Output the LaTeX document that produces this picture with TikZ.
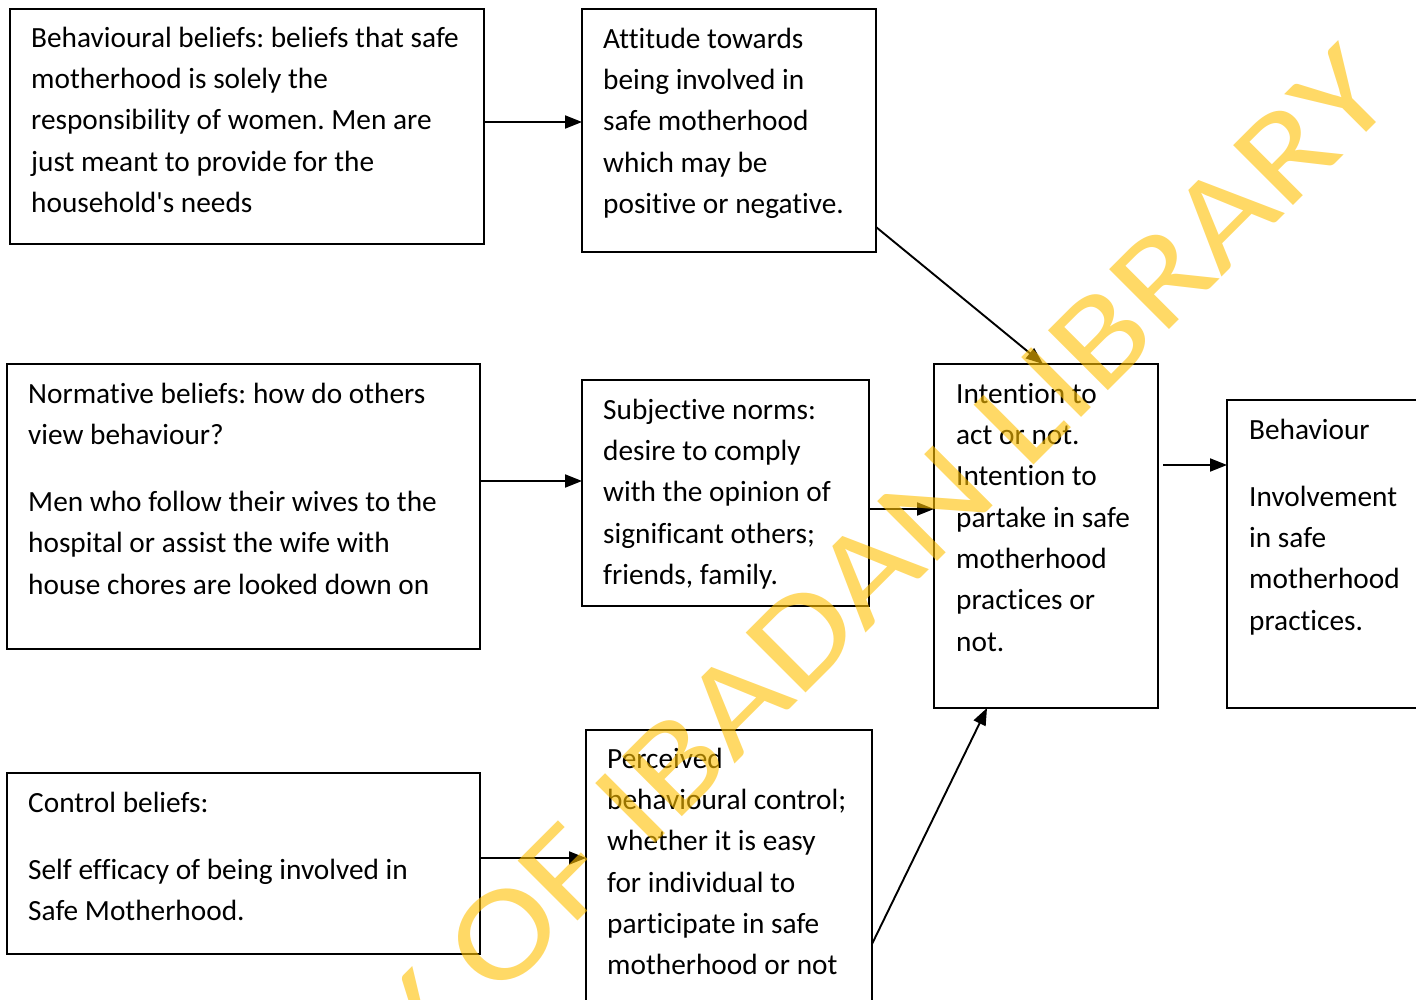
\documentclass[tikz,border=0pt]{standalone}
\usepackage{fontspec}
\setmainfont{Carlito}[Ligatures=CommonOff]
\newfontfamily\wmfont{Carlito}
\usetikzlibrary{arrows.meta}
\definecolor{wmgold}{HTML}{FFC000}
\newcommand{\sq}{\XeTeXglyph\XeTeXcharglyph39\relax}
\newcommand{\tsp}{\frenchspacing\fontdimen2\font=6.7pt\relax\spaceskip=6.7pt plus 0pt minus 0pt\relax}
\begin{document}
\begin{tikzpicture}[x=1pt,y=-1pt,
  box/.style={draw=black, line width=1.8pt, inner sep=0pt, outer sep=0pt, anchor=north west},
  txt/.style={anchor=north west, inner sep=0pt, text width=470pt, align=left,
    font=\fontsize{29.3}{41.3}\selectfont},
  arr/.style={-{Triangle[length=17pt,width=13pt]}, line width=1.9pt},
  wm/.style={text=wmgold, text opacity=0.6, inner sep=0pt,
    font=\wmfont\fontsize{132}{136}\selectfont}]
\fill[white] (0,0) rectangle (1416,999);
\useasboundingbox (0,0) rectangle (1416,999);
% boxes
\node[box, minimum width=474pt, minimum height=235pt] (b1) at (10,9) {};
\node[box, minimum width=294pt, minimum height=243pt] (b2) at (582,9) {};
\node[box, minimum width=473pt, minimum height=285pt] (b3) at (7,364) {};
\node[box, minimum width=287pt, minimum height=226pt] (b4) at (582,380) {};
\node[box, minimum width=224pt, minimum height=344pt] (b5) at (934,364) {};
\node[box, minimum width=220pt, minimum height=308pt] (b6) at (1227,400) {};
\node[box, minimum width=473pt, minimum height=181pt] (b7) at (7,773) {};
\node[box, minimum width=286pt, minimum height=300pt] (b8) at (586,730) {};
% texts
\node[txt] (t1) at (31,18.1) {\tsp\strut Behavioural beliefs: beliefs that safe\\ motherhood is solely the\\ responsibility of women. Men are\\ just meant to provide for the\\ household\sq s needs};
\node[txt] (t2) at (603,19.1) {\tsp\strut Attitude towards\\ being involved in\\ safe motherhood\\ which may be\\ positive or negative.};
\node[txt] (t3) at (28,374.1) {\tsp\strut Normative beliefs: how do others\\ view behaviour?\\[25.7pt] Men who follow their wives to the\\ hospital or assist the wife with\\ house chores are looked down on};
\node[txt] (t4) at (603,390.1) {\tsp\strut Subjective norms:\\ desire to comply\\ with the opinion of\\ significant others;\\ friends, family.};
\node[txt] (t5) at (956,374.1) {\tsp\strut Intention to\\ act or not.\\ Intention to\\ partake in safe\\ motherhood\\ practices or\\ not.};
\node[txt] (t6) at (1249,410.1) {\tsp\strut Behaviour\\[25.7pt] Involvement\\ in safe\\ motherhood\\ practices.};
\node[txt] (t7) at (28,783.1) {\tsp\strut Control beliefs:\\[25.7pt] Self efficacy of being involved in\\ Safe Motherhood.};
\node[txt] (t8) at (607,739.1) {\tsp\strut Perceived\\ behavioural control;\\ whether it is easy\\ for individual to\\ participate in safe\\ motherhood or not};
% connectors
\draw[arr] (b1.east |- 0,122) -- (b2.west |- 0,122);
\draw[arr] (b2.east |- 0,227) -- (b5.north -| 1043,0);
\draw[arr] (b3.east |- 0,481) -- (b4.west |- 0,481);
\draw[arr] (b4.east |- 0,509) -- (b5.west |- 0,509);
\draw[arr] ([xshift=5pt]b5.east |- 0,465) -- (b6.west |- 0,465);
\draw[arr] (b7.east |- 0,858) -- (b8.west |- 0,858);
\draw[arr] (b8.east |- 0,944) -- (b5.south -| 987,0);
% watermark
\node[wm, rotate=45, xscale=1.19, anchor=base east] (wmk) at (1399,100) {UNIVERSITY OF IBADAN LIBRARY};
\end{tikzpicture}
\end{document}
